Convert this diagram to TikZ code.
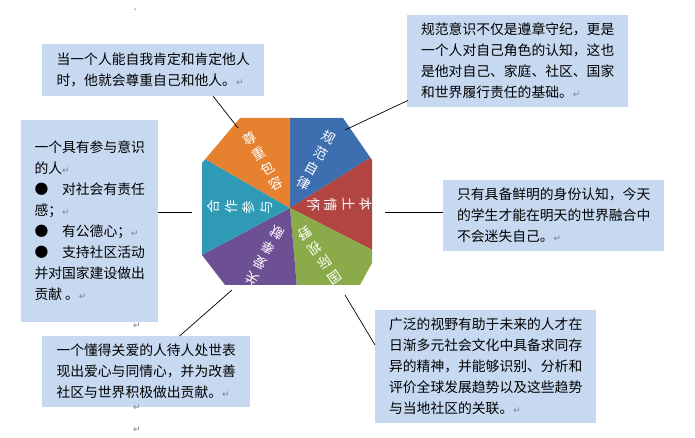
\documentclass[tikz,border=0pt]{standalone}
\usepackage{fontspec}
\setmainfont{Noto Sans CJK SC}
\newfontfamily\symfont{DejaVu Sans}
\usetikzlibrary{calc}
\definecolor{boxblue}{HTML}{C6D9F1}
\definecolor{secblue}{HTML}{3D6EAF}
\definecolor{secred}{HTML}{B24542}
\definecolor{secgreen}{HTML}{8BAB4B}
\definecolor{secpurple}{HTML}{6D5093}
\definecolor{secteal}{HTML}{2F9AB5}
\definecolor{secorange}{HTML}{E5812F}
\newcommand{\ret}{{\color{gray}\symfont\fontsize{9}{9}\selectfont ↵}}
\begin{document}
\begin{tikzpicture}[x=1pt, y=1pt]

    % Define styles
    \tikzset{
        note/.style = {rectangle, fill=boxblue, anchor=north west, align=left, inner xsep=10pt, inner ysep=6pt, font=\fontsize{13.8}{21}\selectfont},
        link/.style = {draw, line width=0.7pt},
        seclabel/.style = {text=white, align=center, font=\fontsize{13.5}{17.5}\selectfont, inner sep=0pt},
        stray/.style = {inner sep=0pt}
    }
    \useasboundingbox (0,0) rectangle (695,438);

    % Wheel
    \coordinate (hub) at (290,230);
    \begin{scope}
        \clip (240,320) -- (343,320) -- (372,278) -- (372,175) -- (360,153) -- (225,153) -- (202,183) -- (202,275) -- cycle;
        \fill[secblue]   (hub) -- ++(32:200) arc (32:90:200) -- cycle;
        \fill[secred]    (hub) -- ++(-27:200) arc (-27:32:200) -- cycle;
        \fill[secgreen]  (hub) -- ++(-85:200) arc (-85:-27:200) -- cycle;
        \fill[secpurple] (hub) -- ++(208:200) arc (208:275:200) -- cycle;
        \fill[secteal]   (hub) -- ++(150:200) arc (150:208:200) -- cycle;
        \fill[secorange] (hub) -- ++(90:200) arc (90:150:200) -- cycle;
    \end{scope}
    \node [seclabel, rotate=-29]   (s_rule)  at ($(hub)+(61:54)$)    {规\\范\\自\\律};
    \node [seclabel, rotate=-88]   (s_local) at ($(hub)+(4:50)$)     {本\\土\\情\\怀};
    \node [seclabel, rotate=-146]  (s_world) at ($(hub)+(-58:56)$)   {国\\际\\视\\野};
    \node [seclabel, rotate=151.5] (s_care)  at ($(hub)+(241.5:54)$) {关\\爱\\奉\\献};
    \node [seclabel, rotate=89]    (s_join)  at ($(hub)+(179:50)$)   {合\\作\\参\\与};
    \node [seclabel, rotate=30]    (s_resp)  at ($(hub)+(120:54)$)   {尊\\重\\包\\容};

    % Notes
    \node [note, minimum width=222pt, minimum height=52pt] (n_resp) at (42,394) {当一个人能自我肯定和肯定他人\\时，他就会尊重自己和他人。\ret};
    \node [note, minimum width=221pt, minimum height=92pt] (n_rule) at (407,423) {规范意识不仅是遵章守纪，更是\\一个人对自己角色的认知，这也\\是他对自己、家庭、社区、国家\\和世界履行责任的基础。\ret};
    \node [note, minimum width=137pt, minimum height=202pt, inner xsep=8pt] (n_join) at (21,318) {一个具有参与意识\\的人\ret\\●\quad 对社会有责任\\感；\ret\\●\quad 有公德心；\ret\\●\quad 支持社区活动\\并对国家建设做出\\贡献 。\ret};
    \node [note, minimum width=221pt, minimum height=71pt] (n_local) at (443,258) {只有具备鲜明的身份认知，今天\\的学生才能在明天的世界融合中\\不会迷失自己。\ret};
    \node [note, minimum width=208pt, minimum height=71pt, inner xsep=7pt] (n_care) at (42,102) {一个懂得关爱的人待人处世表\\现出爱心与同情心，并为改善\\社区与世界积极做出贡献。\ret};
    \node [note, minimum width=221pt, minimum height=113pt, inner xsep=7pt] (n_world) at (375,128) {广泛的视野有助于未来的人才在\\日渐多元社会文化中具备求同存\\异的精神，并能够识别、分析和\\评价全球发展趋势以及这些趋势\\与当地社区的关联。\ret};

    % Stray marks
    \node [stray] (m_top) at (135,428) {\fontsize{5}{5}\selectfont ·};
    \node [stray] (m_a) at (137,112) {\ret};
    \node [stray] (m_b) at (137,30) {\ret};
    \node [stray] (m_c) at (137,8) {\ret};

    % Links
    \coordinate (t_resp)  at (238,310);
    \coordinate (t_rule)  at (345,308);
    \coordinate (t_join)  at (192,226);
    \coordinate (t_local) at (385,226);
    \coordinate (t_care)  at (232,148);
    \coordinate (t_world) at (345,143);
    \path [link] ($(n_resp.south west)!0.77!(n_resp.south east)$) -- (t_resp);
    \path [link] ($(n_rule.south west)+(1,7)$) -- (t_rule);
    \path [link] (n_join.east |- t_join) -- (t_join);
    \path [link] (n_local.west |- t_local) -- (t_local);
    \path [link] ($(n_care.north west)!0.66!(n_care.north east)$) -- (t_care);
    \path [link] ($(n_world.north west)+(0,-35)$) -- (t_world);

\end{tikzpicture}
\end{document}
